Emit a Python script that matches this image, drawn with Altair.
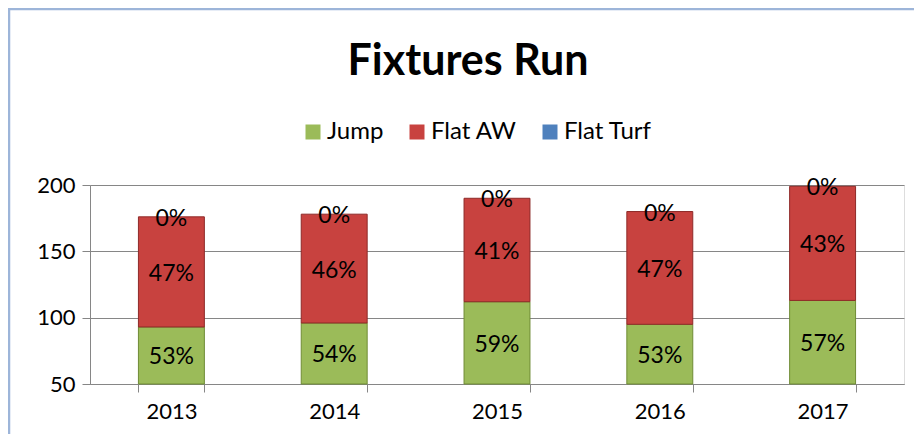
import altair as alt
import pandas as pd

years = ["2013", "2014", "2015", "2016", "2017"]
series = ["Jump", "Flat AW", "Flat Turf"]
jump = [93, 96, 112, 95, 113]
flat_aw = [83, 82, 78, 85, 86]
flat_turf = [0, 0, 0, 0, 0]
colors = ["#9bbb59", "#c8423f", "#4f81bd"]
strokes = ["#6f8c35", "#8e2a28", "transparent"]
title_text = ["Fixtures Run"]

BASE = 50
rows = []
for i, y in enumerate(years):
    vals = [jump[i], flat_aw[i], flat_turf[i]]
    total = sum(vals)
    cum = 0
    for s, v in zip(series, vals):
        lo = max(cum, BASE)
        cum += v
        hi = cum
        rows.append({"year": y, "series": s, "lo": lo, "hi": hi,
                     "mid": (lo + hi) / 2,
                     "pct": f"{round(v / total * 100):.0f}%"})
df = pd.DataFrame(rows)

FONT = "Lato"

xenc = alt.X("year:N", title=None, sort=years,
             scale=alt.Scale(paddingInner=0.595, paddingOuter=0.2975),
             axis=alt.Axis(labelAngle=0, labelFontSize=22, labelFont=FONT,
                           labelColor="#000000", tickBand="extent",
                           tickSize=8, tickColor="#868686",
                           domainColor="#868686", labelPadding=9))

bars = alt.Chart(df).mark_bar(strokeWidth=1).encode(
    x=xenc,
    y=alt.Y("lo:Q", title=None,
            scale=alt.Scale(domain=[50, 200], nice=False, zero=False),
            axis=alt.Axis(values=[50, 100, 150, 200], labelFontSize=22,
                          labelFont=FONT, labelColor="#000000",
                          tickSize=8, tickColor="#868686",
                          domainColor="#868686", gridColor="#868686",
                          labelPadding=7)),
    y2="hi:Q",
    color=alt.Color("series:N", sort=series,
                    scale=alt.Scale(domain=series, range=colors),
                    legend=alt.Legend(title=None, orient="none",
                                      direction="horizontal",
                                      legendX=211, legendY=-65,
                                      symbolType="square", symbolSize=225,
                                      symbolStrokeWidth=0,
                                      labelFontSize=24, labelFont=FONT,
                                      labelColor="#000000",
                                      columnPadding=21, symbolOffset=0,
                                      labelOffset=2)),
    stroke=alt.Stroke("series:N", sort=series,
                      scale=alt.Scale(domain=series, range=strokes),
                      legend=None),
)

labels = alt.Chart(df).mark_text(fontSize=23, font=FONT, color="#000000",
                                 baseline="middle", dy=2).encode(
    x=alt.X("year:N", sort=years),
    y=alt.Y("mid:Q"),
    text="pct:N",
)

title = alt.Chart(pd.DataFrame({"t": title_text})).mark_text(
    fontSize=43, font=FONT, fontWeight="bold", color="#000000",
    baseline="alphabetic", align="center"
).encode(x=alt.value(378), y=alt.value(-110), text="t:N")

border = alt.Chart(pd.DataFrame({"a": [0]})).mark_rect(
    fill=None, stroke="#9db5d9", strokeWidth=2.5
).encode(x=alt.value(-81), x2=alt.value(900), y=alt.value(-176), y2=alt.value(400))

chart = alt.layer(border, bars, labels, title).properties(
    width=814, height=199,
    autosize=alt.AutoSizeParams(type="none"),
    padding={"left": 82, "top": 177, "right": 10, "bottom": 50},
).configure_view(stroke=None).configure(background="#ffffff")

chart.save("out.html", embed_options={"renderer": "svg", "actions": False})
